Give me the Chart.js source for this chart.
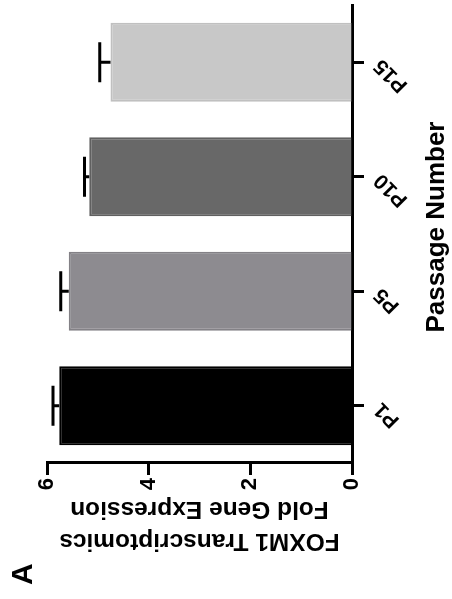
<!DOCTYPE html>
<html>
<head>
<meta charset="utf-8">
<script src="https://cdn.jsdelivr.net/npm/chart.js@4/dist/chart.umd.min.js"></script>
<style>
  html, body { margin: 0; padding: 0; background: #ffffff; overflow: hidden; }
  /* The figure is laid out landscape and turned a quarter turn counter-clockwise on the page */
  #wrap {
    position: absolute; left: 0; top: 0;
    width: 599px; height: 452px;
    transform-origin: 0 0;
    transform: translateY(599px) rotate(-90deg);
  }
</style>
</head>
<body>
<div id="wrap"><canvas id="c" width="599" height="452"></canvas></div>
<script>
// FOXM1 fold expression by passage
const passages = ['P1', 'P5', 'P10', 'P15'];
const foldExpression = [5.76, 5.57, 5.17, 4.75];
const errorSEM = [0.12, 0.16, 0.09, 0.21];
const valueTicks = [0, 2, 4, 6];
const barColors = ['#000000', '#8d8b90', '#686868', '#c8c8c8'];
const barEdges = ['#000000', '#838186', '#606060', '#c0c0c0'];
const xAxisTitle = 'Passage Number';

const FONT = "'Liberation Sans', Arial, Helvetica, sans-serif";

// Upper error bars with a flat cap, drawn through the value scale
const errorBars = {
  id: 'errorBars',
  afterDatasetsDraw(chart) {
    const ctx = chart.ctx;
    const y = chart.scales.y;
    const meta = chart.getDatasetMeta(0);
    ctx.save();
    ctx.strokeStyle = '#000000';
    ctx.lineWidth = 3;
    ctx.lineCap = 'butt';
    meta.data.forEach((bar, i) => {
      const v = foldExpression[i];
      const e = errorSEM[i];
      const yBar = y.getPixelForValue(v);
      const yTop = y.getPixelForValue(v + e);
      ctx.beginPath();
      ctx.moveTo(bar.x, yBar);
      ctx.lineTo(bar.x, yTop);
      ctx.moveTo(bar.x - 20, yTop);
      ctx.lineTo(bar.x + 20, yTop);
      ctx.stroke();
    });
    ctx.restore();
  }
};

// Category axis title, set slightly right of the axis midpoint near the bottom edge
const xTitle = {
  id: 'xTitle',
  afterDraw(chart) {
    const ctx = chart.ctx;
    const x = chart.scales.x;
    ctx.save();
    ctx.fillStyle = '#000000';
    ctx.font = 'bold 26px ' + FONT;
    ctx.textAlign = 'center';
    ctx.textBaseline = 'middle';
    ctx.fillText(xAxisTitle, (x.left + x.right) / 2 + 7, x.bottom - 15);
    ctx.restore();
  }
};

new Chart(document.getElementById('c'), {
  type: 'bar',
  data: {
    labels: passages,
    datasets: [{
      data: foldExpression,
      backgroundColor: barColors,
      borderColor: barEdges,
      borderWidth: 2,
      categoryPercentage: 1.0,
      barPercentage: 0.69
    }]
  },
  options: {
    responsive: false,
    animation: false,
    devicePixelRatio: 1,
    layout: { padding: { left: 14, right: 5, top: 0, bottom: 0 } },
    plugins: {
      legend: { display: false },
      tooltip: { enabled: false },
      title: {
        display: true,
        text: 'A',
        align: 'start',
        color: '#000000',
        font: { family: FONT, size: 30, weight: 'bold', lineHeight: 1.2 },
        padding: { top: 6, bottom: 5 }
      }
    },
    scales: {
      x: {
        offset: true,
        afterFit(scale) { scale.height = 100; },
        grid: {
          display: true,
          offset: false,
          drawOnChartArea: false,
          drawTicks: true,
          tickLength: 12,
          tickWidth: 3,
          tickColor: '#000000'
        },
        border: { display: true, width: 3, color: '#000000' },
        ticks: {
          color: '#000000',
          font: { family: FONT, size: 21, weight: 'bold' },
          minRotation: 45,
          maxRotation: 45,
          padding: 5
        },
        title: { display: false }
      },
      y: {
        min: 0,
        max: 6,
        afterFit(scale) { scale.width = 122; },
        afterBuildTicks(scale) { scale.ticks = valueTicks.map(v => ({ value: v })); },
        grid: {
          display: true,
          drawOnChartArea: false,
          drawTicks: true,
          tickLength: 12,
          tickWidth: 3,
          tickColor: '#000000'
        },
        border: { display: true, width: 3, color: '#000000' },
        ticks: {
          color: '#000000',
          font: { family: FONT, size: 22, weight: 'bold' },
          padding: 3
        },
        title: {
          display: true,
          text: ['FOXM1 Transcriptomics', 'Fold Gene Expression'],
          color: '#000000',
          font: { family: FONT, size: 24.5, weight: 'bold', lineHeight: 1.32 },
          padding: { top: 28, bottom: 0 }
        }
      }
    }
  },
  plugins: [errorBars, xTitle]
});
</script>
</body>
</html>
